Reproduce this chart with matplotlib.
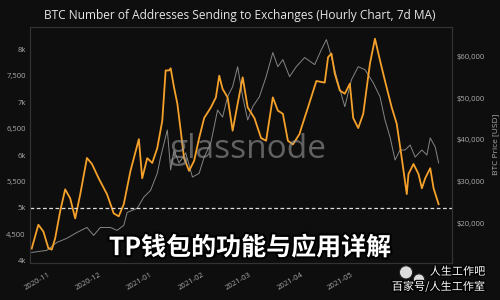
import matplotlib
matplotlib.use("Agg")
import matplotlib.pyplot as plt
import matplotlib.patheffects as pe
import matplotlib.patches as mpatches
import pandas as pd

# ---------------- data ----------------
addr_dates = ["2020-10-22", "2020-10-26", "2020-10-29", "2020-11-01", "2020-11-03", "2020-11-05",
              "2020-11-08", "2020-11-11", "2020-11-14", "2020-11-17", "2020-11-20", "2020-11-24",
              "2020-11-27", "2020-12-01", "2020-12-06", "2020-12-10", "2020-12-13", "2020-12-16",
              "2020-12-20", "2020-12-25", "2020-12-27", "2020-12-30", "2021-01-02", "2021-01-05",
              "2021-01-08", "2021-01-10", "2021-01-12", "2021-01-13", "2021-01-15", "2021-01-17",
              "2021-01-19", "2021-01-21", "2021-01-24", "2021-01-27", "2021-01-30", "2021-02-02",
              "2021-02-06", "2021-02-09", "2021-02-11", "2021-02-13", "2021-02-16", "2021-02-19",
              "2021-02-22", "2021-02-25", "2021-02-28", "2021-03-04", "2021-03-08", "2021-03-11",
              "2021-03-15", "2021-03-18", "2021-03-21", "2021-03-24", "2021-03-27", "2021-03-31",
              "2021-04-01", "2021-04-05", "2021-04-10", "2021-04-15", "2021-04-17", "2021-04-19",
              "2021-04-21", "2021-04-24", "2021-04-27", "2021-04-30", "2021-05-02", "2021-05-05",
              "2021-05-08", "2021-05-12", "2021-05-15", "2021-05-18", "2021-05-21", "2021-05-25",
              "2021-05-28", "2021-05-31", "2021-06-03", "2021-06-04", "2021-06-07", "2021-06-10",
              "2021-06-12", "2021-06-14", "2021-06-17", "2021-06-19", "2021-06-22"]
addr_values = [4229, 4680, 4552, 4234, 4210, 4420,
               4933, 5350, 5180, 4800, 5257, 5943,
               5830, 5560, 5257, 4895, 4840, 5070,
               5700, 6300, 5560, 5940, 5850, 6130,
               6650, 7600, 7600, 7640, 7280, 6970,
               6460, 5940, 5700, 5890, 6320, 6700,
               6900, 7090, 7500, 7250, 7090, 6460,
               6970, 7470, 6900, 6700, 6320, 6270,
               7090, 6840, 6780, 6270, 6200, 6400,
               6510, 6900, 7400, 7370, 7850, 7920,
               7540, 7220, 7160, 7350, 6700, 6510,
               6780, 7730, 8200, 7790, 7400, 6900,
               6590, 5940, 5260, 5640, 5830, 5640,
               5370, 5560, 5750, 5370, 5070]

price_dates = ["2020-10-22", "2020-10-31", "2020-11-06", "2020-11-12", "2020-11-18", "2020-11-24",
               "2020-11-28", "2020-12-02", "2020-12-08", "2020-12-12", "2020-12-16", "2020-12-18",
               "2020-12-24", "2020-12-28", "2021-01-01", "2021-01-05", "2021-01-07", "2021-01-11",
               "2021-01-13", "2021-01-15", "2021-01-18", "2021-01-22", "2021-01-26", "2021-01-30",
               "2021-02-02", "2021-02-06", "2021-02-10", "2021-02-13", "2021-02-16", "2021-02-19",
               "2021-02-22", "2021-02-25", "2021-02-28", "2021-03-03", "2021-03-07", "2021-03-11",
               "2021-03-15", "2021-03-18", "2021-03-21", "2021-03-25", "2021-03-29", "2021-04-03",
               "2021-04-09", "2021-04-13", "2021-04-16", "2021-04-19", "2021-04-22", "2021-04-25",
               "2021-04-27", "2021-05-01", "2021-05-05", "2021-05-09", "2021-05-14", "2021-05-18",
               "2021-05-21", "2021-05-24", "2021-05-27", "2021-05-30", "2021-06-02", "2021-06-05",
               "2021-06-08", "2021-06-12", "2021-06-15", "2021-06-17", "2021-06-20", "2021-06-22"]
price_values = [13000, 13500, 15400, 16400, 17800, 19000,
                17100, 19000, 19000, 18300, 19500, 22600,
                23600, 26300, 27900, 32000, 35900, 42400,
                32800, 37600, 34500, 36900, 31100, 32000,
                35900, 39300, 47200, 45500, 50400, 52800,
                57600, 50400, 44800, 48000, 50400, 55200,
                61000, 57600, 59300, 55200, 57600, 59800,
                58100, 61700, 64100, 60000, 55200, 50800,
                48000, 54500, 57600, 56900, 53700, 50400,
                44800, 40700, 35200, 37600, 37600, 38800,
                35900, 37600, 36400, 40500, 38300, 34500]

left_ticks = [4000, 4500, 5000, 5500, 6000, 6500, 7000, 7500, 8000]
left_labels = ["4k", "4,500", "5k", "5,500", "6k", "6,500", "7k", "7,500", "8k"]
right_ticks = [20000, 30000, 40000, 50000, 60000]
right_labels = ["$20,000", "$30,000", "$40,000", "$50,000", "$60,000"]
month_ticks = ["2020-11-01", "2020-12-01", "2021-01-01", "2021-02-01",
               "2021-03-01", "2021-04-01", "2021-05-01"]
month_labels = ["2020-11", "2020-12", "2021-01", "2021-02", "2021-03", "2021-04", "2021-05"]
threshold = 5000

title = "BTC Number of Addresses Sending to Exchanges (Hourly Chart, 7d MA)"
overlay = "TP钱包的功能与应用详解"
brand1 = "人生工作吧"
brand2 = "百家号/人生工作室"

# ---------------- plotting ----------------
BG = "#0e0e0e"
plt.rcParams['font.family'] = ['Open Sans', 'DejaVu Sans']

fig = plt.figure(figsize=(5, 3), dpi=100, facecolor=BG)
ax = fig.add_axes([0.06, 0.125, 0.844, 0.785])
ax2 = ax.twinx()
ax.set_zorder(ax2.get_zorder() + 1)
ax.patch.set_visible(False)
ax2.set_facecolor(BG)

ad = pd.to_datetime(addr_dates)
pdts = pd.to_datetime(price_dates)

ax2.plot(pdts, price_values, color="#9a9a9a", lw=0.7, alpha=0.85)
ax.plot(ad, addr_values, color="#f5a12a", lw=1.3)
ax.axhline(threshold, color="#dddddd", lw=0.9, ls=(0, (3, 2)))

ax.set_xlim(pd.Timestamp("2020-10-21"), pd.Timestamp("2021-06-30"))
ax.set_ylim(3966, 8422)
ax2.set_ylim(10588, 67131)

ax.set_yticks(left_ticks)
ax.set_yticklabels(left_labels)
ax2.set_yticks(right_ticks)
ax2.set_yticklabels(right_labels)
ax.set_xticks(pd.to_datetime(month_ticks))
ax.set_xticklabels(month_labels, rotation=30, ha="right", rotation_mode="anchor")

for a in (ax, ax2):
    a.tick_params(colors="#aaaaaa", labelsize=5.5, length=0, pad=3)
    for s in a.spines.values():
        s.set_color("#333333")
        s.set_linewidth(0.8)
ax.tick_params(axis="x", pad=6)

ax2.set_ylabel("BTC Price [USD]", color="#aaaaaa", fontsize=6, labelpad=6)

fig.text(0.48, 0.95, title, color="#e6e6e6", fontsize=8.6, ha="center", va="center")

fig.text(0.497, 0.50, "glassnode", color="#9a9a9a", alpha=0.6, fontsize=24,
         ha="center", va="center", family=['Open Sans', 'DejaVu Sans'])

fig.text(0.5, 0.173, overlay, color="white", fontsize=18, fontweight="heavy",
         ha="center", va="center", family=['Noto Sans CJK SC', 'DejaVu Sans'],
         path_effects=[pe.withStroke(linewidth=3, foreground="black")])

# small chat-bubble logo
for (cx, cy, r) in [(0.812, 0.092, 0.022), (0.838, 0.068, 0.019)]:
    fig.patches.append(mpatches.Ellipse((cx, cy), r * 2 * 0.6, r * 2, transform=fig.transFigure,
                                        facecolor="#dddddd", edgecolor="#222222", lw=0.8, zorder=5))

fig.text(0.915, 0.095, brand1, color="white", fontsize=8, ha="center", va="center",
         family=['Noto Sans CJK SC', 'DejaVu Sans'], zorder=6,
         path_effects=[pe.withStroke(linewidth=2, foreground="black")])
fig.text(0.877, 0.045, brand2, color="white", fontsize=8, ha="center", va="center",
         family=['Noto Sans CJK SC', 'DejaVu Sans'], zorder=6,
         path_effects=[pe.withStroke(linewidth=2, foreground="black")])

fig.savefig("out.png", dpi=100, facecolor=BG)
